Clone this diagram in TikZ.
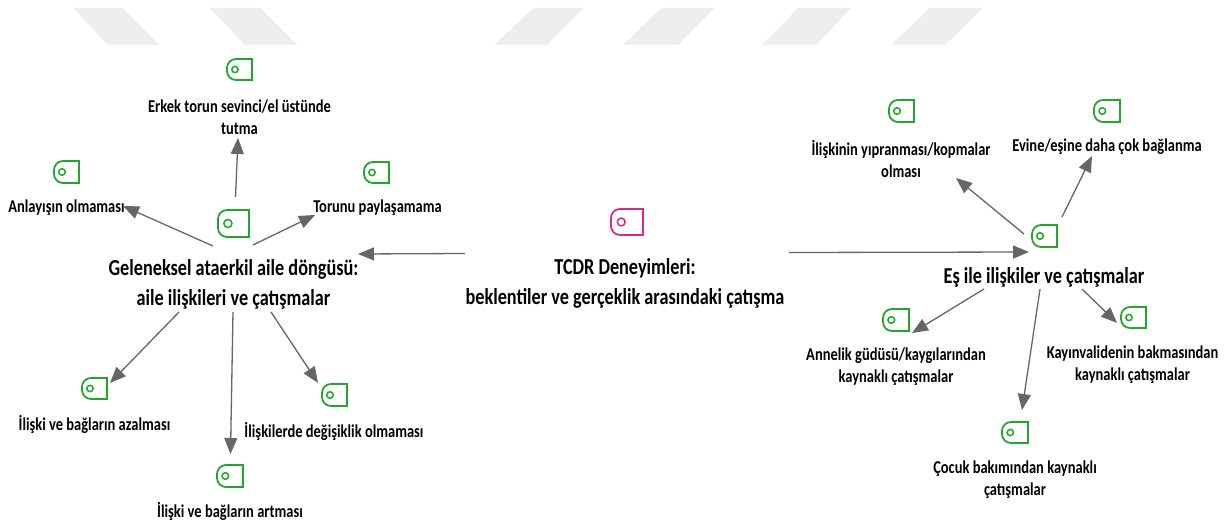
\documentclass[tikz,border=0pt]{standalone}
\usepackage{fontspec}
\setmainfont{Carlito}[FakeStretch=0.8]
\usetikzlibrary{arrows.meta}
\definecolor{tagGreen}{HTML}{22A62E}
\definecolor{tagPink}{HTML}{D9288C}
\definecolor{arrowGray}{HTML}{666666}
\definecolor{markGray}{HTML}{EEEEEE}
\tikzset{
  lbl/.style={font=\fontsize{18.1}{22}\selectfont\bfseries,text=black,align=center,inner sep=0pt},
  head/.style={font=\fontsize{22.8}{30}\selectfont\bfseries,text=black,align=center,inner sep=0pt},
  conn/.style={draw=arrowGray,line width=1.3pt,-{Triangle[length=16pt,width=13pt]}},
  tagbox/.style={inner sep=0pt,draw=none}
}
% name, left, top, right, bottom, colour
\newcommand{\tagicon}[6]{%
  \path (#2,#3) coordinate (#1-nw) (#4,#3) coordinate (#1-ne) (#4,#5) coordinate (#1-se) (#2,#5) coordinate (#1-sw);
  \node[tagbox,minimum width={#4pt-#2pt},minimum height={#5pt-#3pt}] (#1) at ({(#2+#4)/2},{(#3+#5)/2}) {};
  \draw[#6,line width=1.8pt,line join=miter] (#1-ne) [rounded corners=9pt] -- (#1-nw) -- (#1-sw) [sharp corners] -- (#1-se) -- cycle;
  \draw[#6,line width=1.5pt] ({#2+(#4-#2)*0.32},{(#3+#5)/2}) circle [radius={(#5-#3)*0.15pt}];
}
\begin{document}
\begin{tikzpicture}[x=1pt,y=-1pt]
\useasboundingbox (0,0) rectangle (1228,524);
\fill[white] (0,0) rectangle (1228,524);
% watermark bands
\fill[markGray] (73,8) -- (122,8) -- (159,45) -- (108,45) -- cycle;
\fill[markGray] (210,8) -- (260,8) -- (297,45) -- (245,45) -- cycle;
\fill[markGray] (533,8) -- (584,8) -- (547,45) -- (494.5,45) -- cycle;
\fill[markGray] (661,8) -- (714,8) -- (678,45) -- (623,45) -- cycle;
\fill[markGray] (798,8) -- (851,8) -- (816,45) -- (762,45) -- cycle;
\fill[markGray] (930,8) -- (982,8) -- (945,45) -- (891,45) -- cycle;
% icons
\tagicon{iErkek}{227}{59}{252}{80}{tagGreen}
\tagicon{iAnlayis}{54}{161}{79}{183}{tagGreen}
\tagicon{iTorunu}{364}{162}{389}{183}{tagGreen}
\tagicon{iGelen}{218}{210}{249}{237}{tagGreen}
\tagicon{iTcdr}{611}{209}{643}{235}{tagPink}
\tagicon{iEs}{1032}{225}{1057}{247}{tagGreen}
\tagicon{iYipran}{889}{100}{914}{122}{tagGreen}
\tagicon{iEvine}{1094}{100}{1120}{122}{tagGreen}
\tagicon{iAnne}{883}{309}{909}{331}{tagGreen}
\tagicon{iKayin}{1121}{307}{1146}{328}{tagGreen}
\tagicon{iCocuk}{1002}{422}{1028}{443}{tagGreen}
\tagicon{iAzal}{82}{378}{107}{399}{tagGreen}
\tagicon{iArt}{217}{465}{243}{487}{tagGreen}
\tagicon{iDegis}{322}{384}{347}{406}{tagGreen}
% labels
\node[lbl] (tErkek) at (239.5,117) {Erkek torun sevinci/el üstünde\\tutma};
\node[lbl] (tAnlayis) at (66.5,208) {Anlayışın olmaması};
\node[lbl] (tTorunu) at (377.5,208) {Torunu paylaşamama};
\node[head] (tGelen) at (233.5,284.5) {Geleneksel ataerkil aile döngüsü:\\aile ilişkileri ve çatışmalar};
\node[head] (tTcdr) at (625,283.5) {TCDR Deneyimleri:\\beklentiler ve gerçeklik arasındaki çatışma};
\node[head] (tEs) at (1044,277) {Eş ile ilişkiler ve çatışmalar};
\node[lbl] (tYipran) at (901,158.5) {İlişkinin yıpranması/kopmalar\\olması};
\node[lbl] (tEvine) at (1107,147) {Evine/eşine daha çok bağlanma};
\node[lbl] (tAnne) at (896,367) {Annelik güdüsü/kaygılarından\\kaynaklı çatışmalar};
\node[lbl] (tKayin) at (1132.5,364.5) {Kayınvalidenin bakmasından\\kaynaklı çatışmalar};
\node[lbl] (tCocuk) at (1015,479.5) {Çocuk bakımından kaynaklı\\çatışmalar};
\node[lbl] (tAzal) at (94.5,424) {İlişki ve bağların azalması};
\node[lbl] (tDegis) at (334,431) {İlişkilerde değişiklik olmaması};
\node[lbl] (tArt) at (230,511) {İlişki ve bağların artması};
% connector ends
\coordinate (sTcdrL) at (465,253.5); \coordinate (eGelen) at (358,254);
\coordinate (sTcdrR) at (789,252.5); \coordinate (eEs) at (1029,252);
\coordinate (sUp) at (235.5,197); \coordinate (eErkek) at (238,138);
\coordinate (sLeft) at (213,246); \coordinate (eAnlayis) at (123,206);
\coordinate (sRight) at (253,245); \coordinate (eTorunu) at (315,215);
\coordinate (sDL) at (179,312); \coordinate (eAzal) at (110,383);
\coordinate (sD) at (233,312); \coordinate (eArt) at (230.5,454);
\coordinate (sDR) at (271,312); \coordinate (eDegis) at (318,383);
\coordinate (sEsUL) at (1024,234); \coordinate (eYipran) at (956,178);
\coordinate (sEsUR) at (1062,217); \coordinate (eEvine) at (1092,156);
\coordinate (sEsDL) at (984,289); \coordinate (eAnne) at (912,333);
\coordinate (sEsD) at (1040,289); \coordinate (eCocuk) at (1022,410);
\coordinate (sEsDR) at (1082,289); \coordinate (eKayin) at (1117,323);
% connectors
\draw[conn] (sTcdrL) -- (eGelen);
\draw[conn] (sTcdrR) -- (eEs);
\draw[conn] (sUp) -- (eErkek);
\draw[conn] (sLeft) -- (eAnlayis);
\draw[conn] (sRight) -- (eTorunu);
\draw[conn] (sDL) -- (eAzal);
\draw[conn] (sD) -- (eArt);
\draw[conn] (sDR) -- (eDegis);
\draw[conn] (sEsUL) -- (eYipran);
\draw[conn] (sEsUR) -- (eEvine);
\draw[conn] (sEsDL) -- (eAnne);
\draw[conn] (sEsD) -- (eCocuk);
\draw[conn] (sEsDR) -- (eKayin);
\end{tikzpicture}
\end{document}
